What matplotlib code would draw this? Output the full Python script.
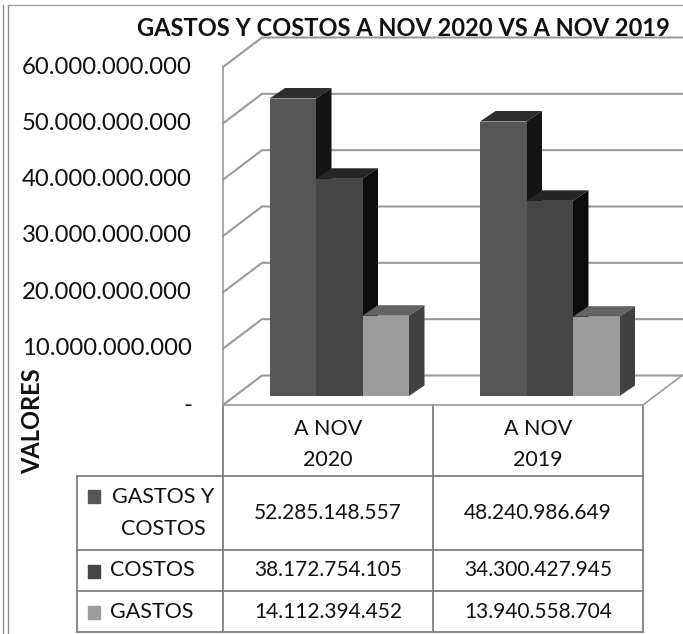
import matplotlib
matplotlib.use("Agg")
import matplotlib.pyplot as plt
from matplotlib.patches import Polygon, Rectangle

plt.rcParams['font.family'] = ['Lato', 'DejaVu Sans']

title = "GASTOS Y COSTOS A NOV 2020 VS A NOV 2019"
categories = ["A NOV\n2020", "A NOV\n2019"]
series = ["GASTOS Y\nCOSTOS", "COSTOS", "GASTOS"]
gastos_y_costos = [52285148557, 48240986649]
costos = [38172754105, 34300427945]
gastos = [14112394452, 13940558704]
yticks = [0, 10e9, 20e9, 30e9, 40e9, 50e9, 60e9]

values = [gastos_y_costos, costos, gastos]
front = ['#565656', '#454545', '#9c9c9c']
top = ['#2e2e2e', '#262626', '#636363']
side = ['#141414', '#0c0c0c', '#414141']
grid = '#9a9a9a'
W, H = 683, 634


def fmt(v):
    return f"{v:,.0f}".replace(",", ".")


fig = plt.figure(figsize=(W / 100, H / 100), dpi=100)

# pixel overlay for the frame and the table
pg = fig.add_axes([0, 0, 1, 1])
pg.set_xlim(0, W)
pg.set_ylim(H, 0)
pg.axis('off')

L, R, T, B = 223, 643, 67, 405
ax = fig.add_axes([L / W, 1 - B / H, (R - L) / W, (B - T) / H])
ax.set_xlim(0, 2)
ax.set_ylim(0, 60e9)
ax.patch.set_alpha(0)
ax.axis('off')

sx = 2 / (R - L)           # data per pixel
sy = 60e9 / (B - T)
wall_dx, wall_dy = 39 * sx, 29.5 * sy
bar_dx, bar_dy = 15.5 * sx, 10.5 * sy
floor = 9 * sy             # bars stand a little behind the front edge
bar_w = 46.5 * sx
starts = [(269.5 - L) * sx, (480 - L) * sx]
bar_scale = 1.01           # the 3D view draws bars slightly larger than the front plane

# walls and gridlines
for v in yticks:
    ax.plot([0, wall_dx, 2 + wall_dx], [v, v + wall_dy, v + wall_dy],
            color=grid, lw=1.5, clip_on=False, zorder=1)
ax.plot([0, 0], [0, 60e9], color=grid, lw=1.2, clip_on=False, zorder=1)
ax.plot([0, 2, 2 + wall_dx], [0, 0, wall_dy], color=grid, lw=1.2, clip_on=False, zorder=1)

# bars
z = 2
for i, x0 in enumerate(starts):
    for j, vals in enumerate(values):
        x = x0 + j * bar_w
        h = vals[i] * bar_scale
        y1 = floor + h
        ax.bar(x, h, bar_w, bottom=floor, align='edge', color=front[j],
               clip_on=False, zorder=z + 2)
        ax.add_patch(Polygon([(x, y1), (x + bar_dx, y1 + bar_dy),
                              (x + bar_w + bar_dx, y1 + bar_dy), (x + bar_w, y1)],
                             color=top[j], lw=0, clip_on=False, zorder=z))
        ax.add_patch(Polygon([(x + bar_w, floor), (x + bar_w + bar_dx, floor + bar_dy),
                              (x + bar_w + bar_dx, y1 + bar_dy), (x + bar_w, y1)],
                             color=side[j], lw=0, clip_on=False, zorder=z + 1))
        z += 3

# value axis labels
for v in yticks:
    ax.annotate(fmt(v) if v else "-", (0, v), xytext=(192, 0), xycoords=('data', 'data'),
                textcoords=('figure pixels', 'offset pixels'), ha='right', va='center',
                fontsize=17.2, color='#111111')

ln = dict(color='#808080', lw=1.3)
# outer scan frame
pg.plot([3, 3], [5, H], color='#8a8a8a', lw=1)
pg.plot([8, 8], [5, H], color='#8a8a8a', lw=1)
pg.plot([8, W], [5, 5], color='#a0a0a0', lw=1)

pg.text(403, 28, title, ha='center', va='center', fontsize=17, fontweight='bold', color='#111111')
pg.text(33, 421, "VALORES", rotation=90, ha='center', va='center', fontsize=17,
        fontweight='bold', color='#111111')

# data table
rows_y = [476, 550, 591, 632]
cols_x = [77, 223, 433, 643]
pg.plot([cols_x[1], cols_x[1]], [B, rows_y[-1]], **ln)
pg.plot([cols_x[2], cols_x[2]], [B, rows_y[-1]], **ln)
pg.plot([cols_x[3], cols_x[3]], [B, rows_y[-1]], **ln)
pg.plot([cols_x[0], cols_x[0]], [rows_y[0], rows_y[-1]], **ln)
for y in rows_y:
    pg.plot([cols_x[0], cols_x[3]], [y, y], **ln)

for c, cat in enumerate(categories):
    l1, l2 = cat.split("\n")
    xc = (cols_x[c + 1] + cols_x[c + 2]) / 2
    pg.text(xc, 429, l1, ha='center', va='center', fontsize=15.5, color='#111111')
    pg.text(xc, 460, l2, ha='center', va='center', fontsize=15.5, color='#111111')

for r, name in enumerate(series):
    yc = (rows_y[r] + rows_y[r + 1]) / 2
    lines = name.split("\n")
    if len(lines) == 2:
        pg.add_patch(Rectangle((88, yc - 23), 12, 13, color=front[r]))
        pg.text(163, yc - 16, lines[0], ha='center', va='center', fontsize=15.5, color='#111111')
        pg.text(163, yc + 16, lines[1], ha='center', va='center', fontsize=15.5, color='#111111')
    else:
        pg.add_patch(Rectangle((88, yc - 6), 12, 13, color=front[r]))
        pg.text(110, yc, name, ha='left', va='center', fontsize=15.5, color='#111111')
    for c in range(2):
        pg.text((cols_x[c + 1] + cols_x[c + 2]) / 2, yc, fmt(values[r][c]), ha='center', va='center',
                fontsize=15, color='#111111')

fig.savefig("out.png", dpi=100)
